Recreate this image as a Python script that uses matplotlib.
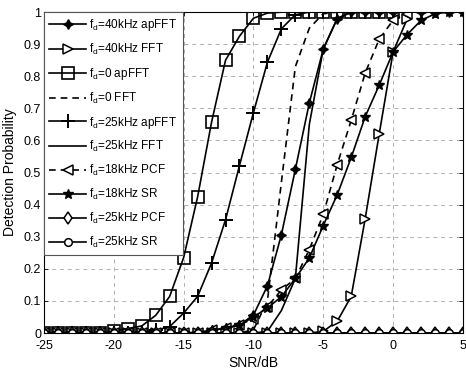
import numpy as np
import matplotlib
matplotlib.use("Agg")
import matplotlib.pyplot as plt

plt.rcParams['font.family'] = ['Liberation Sans', 'DejaVu Sans']
plt.rcParams['mathtext.fontset'] = 'custom'
plt.rcParams['mathtext.rm'] = 'Liberation Sans'
plt.rcParams['mathtext.it'] = 'Liberation Sans'
plt.rcParams['axes.unicode_minus'] = False

# ---------- data (SNR in dB) ----------
snr_to0 = list(range(-25, 1))   # -25 .. 0
snr_to1 = list(range(-25, 2))   # -25 .. 1
snr_all = list(range(-25, 6))   # -25 .. 5

fd40_apfft = [0]*11 + [0.003, 0.008, 0.015, 0.025, 0.056, 0.147, 0.306, 0.51, 0.717, 0.885, 0.98] + [1]*9
fd40_fft = [0]*20 + [0.005, 0.037, 0.114, 0.356, 0.619, 0.876, 0.978]
fd0_apfft = [0]*5 + [0.006, 0.014, 0.022, 0.055, 0.114, 0.235, 0.424, 0.657, 0.85, 0.925, 0.981, 0.997] + [1]*9
fd0_fft = [0]*15 + [0.01, 0.1, 0.47, 0.83, 0.95, 0.995] + [1]*5
fd25_apfft = [0]*7 + [0.003, 0.008, 0.02, 0.062, 0.114, 0.218, 0.353, 0.522, 0.687, 0.844, 0.948, 0.992] + [1]*7
fd25_fft = [0]*16 + [0.005, 0.07, 0.17, 0.65, 0.885, 0.98] + [1]*4
fd18_pcf = [0]*12 + [0.008, 0.015, 0.025, 0.045, 0.082, 0.134, 0.17, 0.26, 0.37, 0.525, 0.663, 0.81, 0.915, 0.975, 0.995]
fd18_sr = [0]*12 + [0.008, 0.015, 0.025, 0.05, 0.078, 0.113, 0.17, 0.234, 0.335, 0.431, 0.547, 0.674, 0.772, 0.876, 0.93, 0.974, 0.995, 1, 1]
fd25_pcf = [0]*31
fd25_sr = [0]*31

labels = [r"f$_\mathrm{d}$=40kHz apFFT", r"f$_\mathrm{d}$=40kHz FFT", r"f$_\mathrm{d}$=0 apFFT",
          r"f$_\mathrm{d}$=0 FFT", r"f$_\mathrm{d}$=25kHz apFFT", r"f$_\mathrm{d}$=25kHz FFT",
          r"f$_\mathrm{d}$=18kHz PCF", r"f$_\mathrm{d}$=18kHz SR", r"f$_\mathrm{d}$=25kHz PCF",
          r"f$_\mathrm{d}$=25kHz SR"]

fig = plt.figure(figsize=(4.66, 3.74), dpi=100)
ax = fig.add_axes([0.0944, 0.1096, 0.899, 0.858])

lw = 1.2
ax.plot(snr_all, fd40_apfft, '-', color='k', lw=lw, marker=(4, 1, 0), ms=7, mfc='k', mec='k', label=labels[0])
ax.plot(snr_to1, fd40_fft, '-', color='k', lw=lw, marker='>', ms=7, mfc='white', mec='k', mew=1.1, label=labels[1])
ax.plot(snr_to0, fd0_apfft, '-', color='k', lw=lw, marker='s', ms=8.5, mfc='none', mec='k', mew=1.2, label=labels[2])
ax.plot(snr_to0, fd0_fft, '--', color='k', lw=lw, dashes=(4, 3), label=labels[3])
ax.plot(snr_to0, fd25_apfft, '-', color='k', lw=lw, marker='+', ms=10, mew=1.4, label=labels[4])
ax.plot(snr_to0, fd25_fft, '-', color='k', lw=lw, label=labels[5])
ax.plot(snr_to1, fd18_pcf, '--', color='k', lw=lw, dashes=(4, 3), marker='<', ms=7, mfc='white', mec='k', mew=1.1, label=labels[6])
ax.plot(snr_all, fd18_sr, '-', color='k', lw=lw, marker='*', ms=7, mfc='k', mec='k', label=labels[7])
ax.plot(snr_all, fd25_pcf, '-', color='k', lw=lw, marker='d', ms=6.5, mfc='white', mec='k', mew=1.1, label=labels[8])
ax.plot(snr_all, fd25_sr, '-', color='k', lw=lw, marker='o', ms=5.5, mfc='white', mec='k', mew=1.1, label=labels[9])

ax.set_xlim(-25, 5)
ax.set_ylim(0, 1)
ax.set_xticks(np.arange(-25, 6, 5))
ax.set_yticks(np.arange(0, 1.01, 0.1))
ax.set_yticklabels(["0", "0.1", "0.2", "0.3", "0.4", "0.5", "0.6", "0.7", "0.8", "0.9", "1"])
ax.tick_params(direction='in', top=True, right=True, labelsize=9, length=3, width=0.6)
ax.tick_params(axis='x', pad=5)
ax.tick_params(axis='y', pad=2)
ax.grid(True, linestyle=(0, (4, 4)), color='#b0b0b0', linewidth=0.7)
for s in ax.spines.values():
    s.set_linewidth(0.8)

ax.set_xlabel("SNR/dB", fontsize=10, labelpad=3)
ax.set_ylabel("Detection Probability", fontsize=10, labelpad=5)

leg = ax.legend(loc='upper left', borderaxespad=0, fancybox=False, fontsize=8.5,
                handlelength=3.1, labelspacing=0.74, handletextpad=0.3,
                borderpad=0.45, framealpha=1)
leg.get_frame().set_edgecolor('#555555')
leg.get_frame().set_linewidth(0.8)

fig.savefig("out.png", dpi=100)
